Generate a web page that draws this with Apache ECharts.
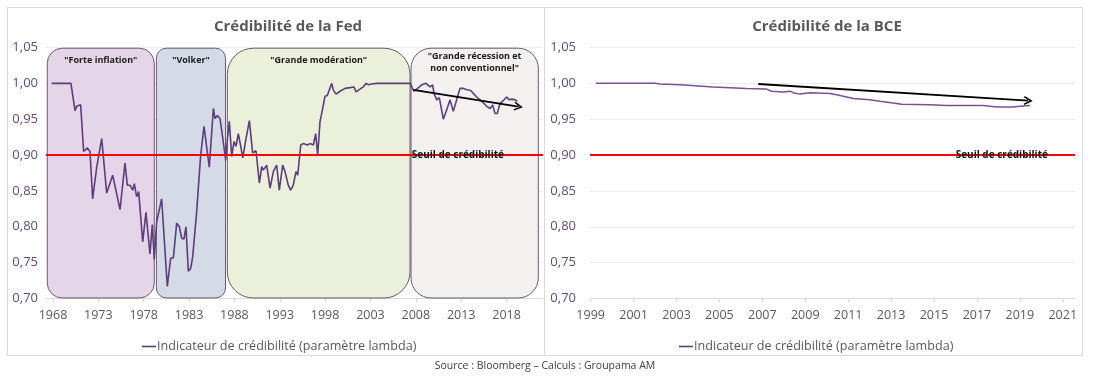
<!DOCTYPE html>
<html><head><meta charset="utf-8">
<script src="https://cdn.jsdelivr.net/npm/echarts@6/dist/echarts.min.js"></script>
<style>html,body{margin:0;padding:0;background:#fff}#c{width:1093px;height:376px}</style>
</head><body><div id="c"></div>
<script>
const seriesName = 'Indicateur de crédibilité (paramètre lambda)';
const fedYears = [1967.85,1969.98,1970.13,1970.43,1970.61,1971.05,1971.16,1971.38,1971.79,1972.08,1972.37,1972.81,1973.37,1973.92,1974.58,1975.39,1975.94,1976.19,1976.49,1976.79,1976.97,1977.22,1977.45,1977.89,1978.25,1978.69,1978.95,1979.17,1979.43,1979.98,1980.16,1980.6,1980.97,1981.27,1981.64,1981.93,1982.19,1982.44,1982.66,1982.92,1983.18,1983.4,1983.84,1984.28,1984.65,1985.23,1985.68,1985.86,1986.12,1986.41,1986.67,1986.85,1987.04,1987.22,1987.44,1987.7,1987.96,1988.18,1988.43,1988.7,1988.92,1989.28,1989.65,1990.01,1990.38,1990.75,1991.01,1991.19,1991.56,1991.93,1992.29,1992.66,1992.95,1993.32,1993.58,1993.94,1994.2,1994.49,1994.79,1994.98,1995.31,1995.6,1996.04,1996.33,1996.7,1996.96,1997.18,1997.44,1997.7,1997.99,1998.24,1998.73,1998.9,1999.2,1999.64,2000.2,2000.74,2001.19,2001.41,2001.85,2002.21,2002.51,2002.77,2003.13,2003.68,2007.4,2007.62,2007.82,2008.1,2008.65,2009.12,2009.56,2009.86,2010.0,2010.3,2010.59,2011.03,2011.4,2011.77,2012.13,2012.5,2012.87,2013.24,2013.61,2014.05,2014.34,2014.71,2015.26,2015.81,2016.18,2016.47,2016.73,2016.98,2017.28,2017.65,2018.02,2018.31,2018.57,2018.94,2019.2];
const fedValues = [1.000,1.000,0.998,0.962,0.968,0.970,0.971,0.905,0.910,0.905,0.839,0.882,0.923,0.847,0.872,0.824,0.889,0.858,0.858,0.851,0.860,0.842,0.849,0.779,0.820,0.762,0.803,0.754,0.807,0.839,0.837,0.717,0.756,0.757,0.805,0.800,0.784,0.783,0.800,0.738,0.742,0.758,0.821,0.900,0.940,0.883,0.965,0.951,0.955,0.951,0.928,0.929,0.893,0.921,0.947,0.898,0.919,0.912,0.930,0.912,0.896,0.923,0.948,0.903,0.906,0.861,0.884,0.879,0.886,0.854,0.877,0.886,0.851,0.886,0.877,0.858,0.851,0.858,0.877,0.872,0.914,0.916,0.914,0.916,0.914,0.930,0.900,0.947,0.963,0.982,0.983,1.000,0.991,0.985,0.989,0.993,0.994,0.995,0.988,0.992,0.995,1.000,0.998,0.999,1.000,1.000,0.993,0.989,0.992,0.998,1.000,0.995,0.998,0.986,0.977,0.980,0.950,0.963,0.977,0.961,0.977,0.993,0.993,0.991,0.990,0.986,0.981,0.975,0.968,0.965,0.970,0.958,0.958,0.972,0.976,0.981,0.977,0.978,0.977,0.975];
const ecbYears = [1999.25,2002.0,2002.23,2003.16,2004.71,2006.27,2007.2,2007.43,2007.97,2008.29,2008.44,2008.75,2009.22,2010.15,2010.46,2011.24,2012.01,2012.48,2013.26,2013.49,2014.81,2015.59,2017.29,2017.61,2017.92,2018.69,2019.0,2019.47];
const ecbValues = [1.000,1.000,0.999,0.998,0.995,0.993,0.992,0.989,0.988,0.989,0.987,0.985,0.987,0.986,0.984,0.979,0.977,0.975,0.972,0.971,0.970,0.969,0.969,0.968,0.967,0.967,0.968,0.969];
const fedTicks = [1968,1973,1978,1983,1988,1993,1998,2003,2008,2013,2018];
const ecbTicks = [1999,2001,2003,2005,2007,2009,2011,2013,2015,2017,2019,2021];
const threshold = 0.90;
const thresholdLabel = 'Seuil de crédibilité';
const periodStart = [1967.37, 1979.40, 1987.22, 2007.47];
const periodEnd   = [1979.17, 1987.02, 2007.36, 2021.50];
const periodLabels = ['"Forte inflation"', '"Volker"', '"Grande modération"', '"Grande récession et\nnon conventionnel"'];
const periodTop = 1.049, periodBottom = 0.7007;
const fedArrow = [[2007.73, 0.9908], [2019.31, 0.9675]];
const ecbArrow = [[2006.81, 0.9991], [2019.39, 0.9758]];
const fedLabelAt = [2007.55, 0.90];
const ecbLabelAt = [2016.01, 0.90];

const FONT = '"Open Sans", "Noto Sans", sans-serif';
const boxFills = ['#e4d5e8', '#d4dae6', '#ebf0da', '#f3f1f0'];
const boxRadius = [15, 10, 26, 20];
const arrowHead = 'path://M5,0 L10,9 L8.6,10 L5,3.4 L1.4,10 L0,9 Z';

function yAxisCfg(grid, margin) {
  return {
    type: 'value', gridIndex: grid, min: 0.7, max: 1.05, interval: 0.05,
    axisLine: {show: false}, axisTick: {show: false},
    axisLabel: {color: '#604a7b', fontSize: 13, fontFamily: FONT, margin: margin,
      formatter: v => v.toFixed(2).replace('.', ',')},
    splitLine: {lineStyle: {color: '#ececec', width: 1}}
  };
}
function xAxisCfg(grid, min, max, ticks) {
  return {
    type: 'value', gridIndex: grid, min: min, max: max,
    splitLine: {show: false},
    axisLine: {show: true, lineStyle: {color: '#d9d9d9'}},
    axisTick: {show: true, customValues: ticks, length: 4, lineStyle: {color: '#d9d9d9'}},
    axisLabel: {customValues: ticks, color: '#595959', fontSize: 12.5, fontFamily: FONT, margin: 10,
      formatter: v => String(Math.round(v))}
  };
}
function helper(grid) {
  return {
    type: 'line', xAxisIndex: grid, yAxisIndex: grid, data: [], z: 6, silent: true,
    markLine: {
      silent: true, animation: false, symbol: ['none', 'none'],
      label: {show: false},
      lineStyle: {color: '#ff0000', width: 2, type: 'solid'},
      emphasis: {disabled: true},
      data: [{yAxis: threshold}]
    }
  };
}
function helper2(grid, arrow, labelAt) {
  return {
    type: 'line', xAxisIndex: grid, yAxisIndex: grid, data: [], z: 7, silent: true,
    markLine: {
      silent: true, animation: false, symbol: ['none', arrowHead], symbolSize: [9, 9],
      label: {show: false},
      lineStyle: {color: '#000000', width: 1.8, type: 'solid'},
      emphasis: {disabled: true},
      data: [[{coord: arrow[0]}, {coord: arrow[1]}]]
    },
    markPoint: {
      silent: true, animation: false, symbol: 'circle', symbolSize: 0,
      data: [{coord: labelAt, label: {show: true, position: 'right', distance: 0,
        formatter: thresholdLabel, color: '#111', fontWeight: 'bold', fontSize: 10, fontFamily: FONT}}]
    }
  };
}
const legendCfg = (left) => ({
  data: [seriesName], left: left, top: 335, icon: 'rect', itemWidth: 14, itemHeight: 1.6, selectedMode: false,
  textStyle: {fontFamily: FONT, fontSize: 12.6, color: '#595959', padding: [0, 0, 0, -4]}
});

const chart = echarts.init(document.getElementById('c'), null, {renderer: 'canvas'});
chart.setOption({
  animation: false,
  backgroundColor: '#ffffff',
  title: [
    {text: 'Crédibilité de la Fed', left: 283, top: 14, textAlign: 'center',
     textStyle: {fontFamily: FONT, fontSize: 15, fontWeight: 'bold', color: '#595959'}},
    {text: 'Crédibilité de la BCE', left: 822, top: 14, textAlign: 'center',
     textStyle: {fontFamily: FONT, fontSize: 15, fontWeight: 'bold', color: '#595959'}}
  ],
  grid: [
    {left: 46, top: 47.5, width: 497, height: 251, containLabel: false},
    {left: 590, top: 47.5, width: 485, height: 251, containLabel: false}
  ],
  xAxis: [xAxisCfg(0, 1967.23, 2022.02, fedTicks), xAxisCfg(1, 1998.97, 2021.57, ecbTicks)],
  yAxis: [yAxisCfg(0, 8), yAxisCfg(1, 14)],
  legend: [legendCfg(137), legendCfg(674)],
  graphic: [
    {type: 'rect', silent: true, z: -10, shape: {x: 7.5, y: 7.5, width: 537, height: 348},
     style: {fill: 'none', stroke: '#d9d9d9', lineWidth: 1}},
    {type: 'rect', silent: true, z: -10, shape: {x: 544.5, y: 7.5, width: 538, height: 348},
     style: {fill: 'none', stroke: '#d9d9d9', lineWidth: 1}},
    {type: 'text', silent: true, x: 545, y: 366,
     style: {text: 'Source : Bloomberg – Calculs : Groupama AM', align: 'center', verticalAlign: 'middle',
             font: '10.5px ' + FONT, fill: '#404040'}}
  ],
  series: [
    {
      type: 'custom', xAxisIndex: 0, yAxisIndex: 0, z: 1, clip: false, silent: true,
      data: periodStart.map((s, i) => [s, periodEnd[i], i]),
      encode: {x: [0, 1]},
      renderItem: function (params, api) {
        const i = api.value(2);
        const p0 = api.coord([api.value(0), periodTop]);
        const p1 = api.coord([api.value(1), periodBottom]);
        const twoLine = periodLabels[i].indexOf('\n') >= 0;
        return {
          type: 'group', children: [
            {type: 'rect', shape: {x: p0[0], y: p0[1], width: p1[0] - p0[0], height: p1[1] - p0[1], r: boxRadius[i]},
             style: {fill: boxFills[i], stroke: '#6b5870', lineWidth: 1}},
            {type: 'text', style: {text: periodLabels[i], x: (p0[0] + p1[0]) / 2, y: p0[1] + (twoLine ? 14 : 12),
             align: 'center', verticalAlign: 'middle', font: 'bold 9px ' + FONT, fill: '#1a1a1a', lineHeight: 12.5}}
          ]
        };
      }
    },
    {
      name: seriesName, type: 'line', xAxisIndex: 0, yAxisIndex: 0, z: 3, symbol: 'none',
      data: fedYears.map((y, i) => [y, fedValues[i]]),
      lineStyle: {color: '#5e3d7c', width: 1.6}, itemStyle: {color: '#5e3d7c'}
    },
    {
      name: seriesName, type: 'line', xAxisIndex: 1, yAxisIndex: 1, z: 3, symbol: 'none',
      data: ecbYears.map((y, i) => [y, ecbValues[i]]),
      lineStyle: {color: '#7d4e99', width: 1.5}, itemStyle: {color: '#7d4e99'}
    },
    helper(0), helper(1),
    helper2(0, fedArrow, fedLabelAt), helper2(1, ecbArrow, ecbLabelAt)
  ]
});
</script></body></html>
